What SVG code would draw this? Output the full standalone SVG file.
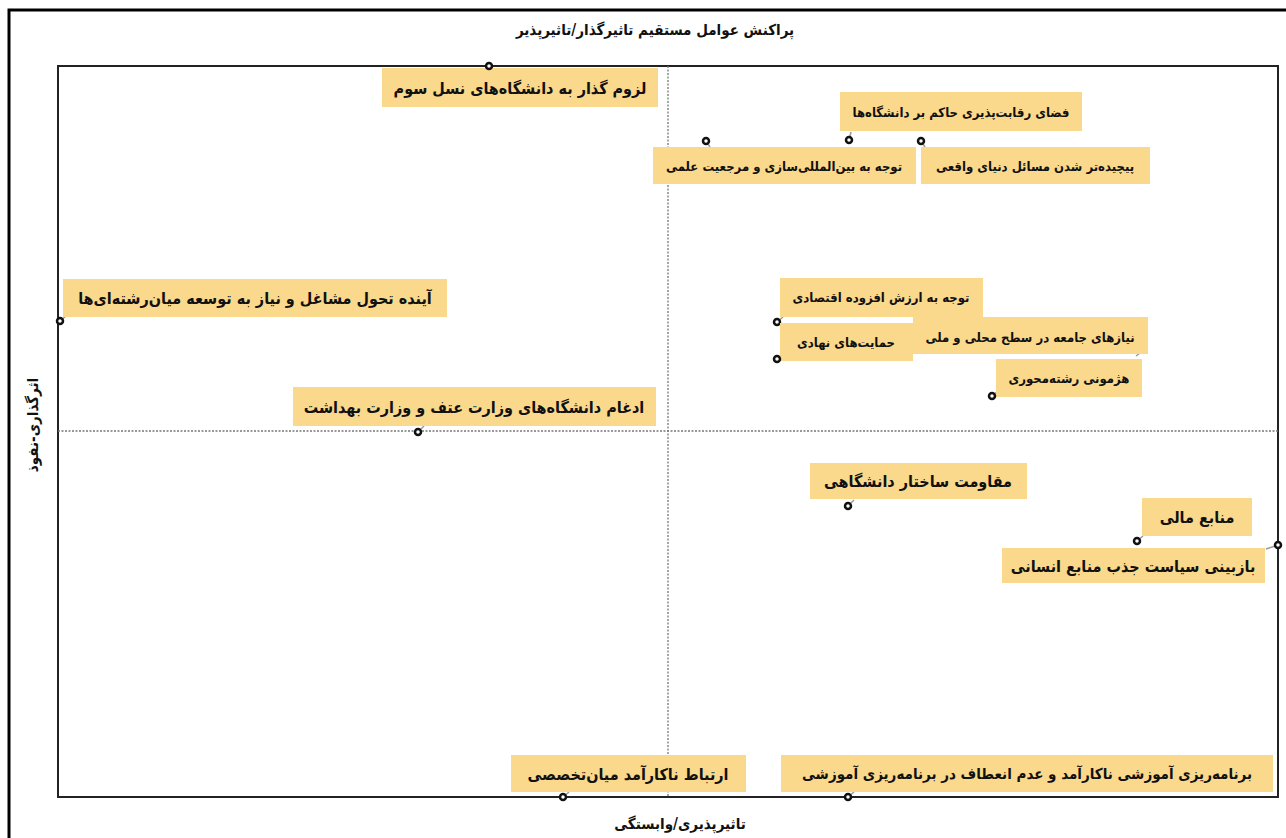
<svg xmlns="http://www.w3.org/2000/svg" width="1286" height="838" viewBox="0 0 1286 838">
<style>
.box{fill:#FAD98C;}
.t{font-family:"DejaVu Sans Condensed","DejaVu Sans",sans-serif;font-weight:bold;fill:#111;text-anchor:middle;dominant-baseline:central;direction:rtl;}
.s{font-size:13px;}
.l{font-size:16px;}
.pt{fill:#fff;stroke:#111;stroke-width:2.5;}
.ld{stroke:#999;stroke-width:1.5;fill:none;}
.ax{font-family:"DejaVu Sans Condensed","DejaVu Sans",sans-serif;font-weight:bold;font-size:15px;fill:#111;text-anchor:middle;dominant-baseline:central;direction:rtl;}
</style>
<rect x="0" y="0" width="1286" height="838" fill="#fff"/>
<rect x="9" y="10" width="1300" height="860" fill="none" stroke="#000" stroke-width="3"/>
<rect x="58" y="66" width="1220" height="731" fill="none" stroke="#222" stroke-width="2"/>
<line x1="668" y1="66" x2="668" y2="797" stroke="#777" stroke-width="1.3" stroke-dasharray="2,1.5"/>
<line x1="58" y1="431" x2="1278" y2="431" stroke="#777" stroke-width="1.3" stroke-dasharray="2,1.5"/>
<text class="ax" x="655" y="30">پراکنش عوامل مستقیم تاثیرگذار/تاثیرپذیر</text>
<text class="ax" x="680" y="824">تاثیرپذیری/وابستگی</text>
<text class="ax" x="33" y="425" transform="rotate(-90 33 425)">اثرگذاری-نفوذ</text>
<g id="connectors">
<line class="ld" x1="489" y1="66" x2="495" y2="70"/>
<line class="ld" x1="849" y1="140" x2="851" y2="132"/>
<line class="ld" x1="706" y1="141" x2="710" y2="147"/>
<line class="ld" x1="921" y1="141" x2="925" y2="147"/>
<line class="ld" x1="60" y1="321" x2="66" y2="316"/>
<line class="ld" x1="418" y1="432" x2="424" y2="426"/>
<line class="ld" x1="777" y1="322" x2="783" y2="317"/>
<line class="ld" x1="777" y1="359" x2="782" y2="355"/>
<line class="ld" x1="992" y1="396" x2="998" y2="391"/>
<line class="ld" x1="848" y1="506" x2="854" y2="500"/>
<line class="ld" x1="1137" y1="541" x2="1143" y2="536"/>
<line class="ld" x1="1278" y1="545" x2="1266" y2="549"/>
<line class="ld" x1="563" y1="797" x2="569" y2="792"/>
<line class="ld" x1="848" y1="797" x2="854" y2="792"/>
<line class="ld" x1="1136" y1="356" x2="1140" y2="353"/>
</g>
<g id="n1"><rect class="box" x="382" y="68" width="276" height="39"/><text class="t l" x="520" y="88">لزوم گذار به دانشگاه‌های نسل سوم</text><circle class="pt" cx="489" cy="66" r="3"/></g>
<g id="n2"><rect class="box" x="840" y="92" width="242" height="39"/><text class="t s" x="961" y="112">فضای رقابت‌پذیری حاکم بر دانشگاه‌ها</text><circle class="pt" cx="849" cy="140" r="3"/></g>
<g id="n3"><rect class="box" x="653" y="147" width="263" height="37"/><text class="t s" x="784" y="166">توجه به بین‌المللی‌سازی و مرجعیت علمی</text><circle class="pt" cx="706" cy="141" r="3"/></g>
<g id="n4"><rect class="box" x="921" y="147" width="229" height="37"/><text class="t s" x="1035" y="166">پیچیده‌تر شدن مسائل دنیای واقعی</text><circle class="pt" cx="921" cy="141" r="3"/></g>
<g id="n5"><rect class="box" x="63" y="279" width="384" height="38"/><text class="t l" x="255" y="298">آینده تحول مشاغل و نیاز به توسعه میان‌رشته‌ای‌ها</text><circle class="pt" cx="60" cy="321" r="3"/></g>
<g id="n6"><rect class="box" x="293" y="387" width="363" height="39"/><text class="t l" x="474" y="407">ادغام دانشگاه‌های وزارت عتف و وزارت بهداشت</text><circle class="pt" cx="418" cy="432" r="3"/></g>
<g id="n7"><rect class="box" x="780" y="278" width="203" height="39"/><text class="t s" x="881" y="297">توجه به ارزش افزوده اقتصادی</text><circle class="pt" cx="777" cy="322" r="3"/></g>
<g id="n8"><rect class="box" x="913" y="317" width="235" height="37"/><text class="t s" x="1030" y="337">نیازهای جامعه در سطح محلی و ملی</text></g>
<g id="n9"><rect class="box" x="780" y="323" width="133" height="38"/><text class="t s" x="846" y="342">حمایت‌های نهادی</text><circle class="pt" cx="777" cy="359" r="3"/></g>
<g id="n10"><rect class="box" x="996" y="359" width="146" height="38"/><text class="t s" x="1069" y="378">هژمونی رشته‌محوری</text><circle class="pt" cx="992" cy="396" r="3"/></g>
<g id="n11"><rect class="box" x="810" y="463" width="217" height="36"/><text class="t l" x="918" y="481">مقاومت ساختار دانشگاهی</text><circle class="pt" cx="848" cy="506" r="3"/></g>
<g id="n12"><rect class="box" x="1142" y="498" width="110" height="38"/><text class="t l" x="1197" y="517">منابع مالی</text><circle class="pt" cx="1137" cy="541" r="3"/></g>
<g id="n13"><rect class="box" x="1002" y="548" width="263" height="35"/><text class="t l" x="1133" y="566">بازبینی سیاست جذب منابع انسانی</text><circle class="pt" cx="1278" cy="545" r="3"/></g>
<g id="n14"><rect class="box" x="511" y="755" width="235" height="37"/><text class="t l" x="628" y="774">ارتباط ناکارآمد میان‌تخصصی</text><circle class="pt" cx="563" cy="797" r="3"/></g>
<g id="n15"><rect class="box" x="781" y="755" width="492" height="37"/><text class="t" style="font-size:15px" x="1027" y="774">برنامه‌ریزی آموزشی ناکارآمد و عدم انعطاف در برنامه‌ریزی آموزشی</text><circle class="pt" cx="848" cy="797" r="3"/></g>
</svg>
